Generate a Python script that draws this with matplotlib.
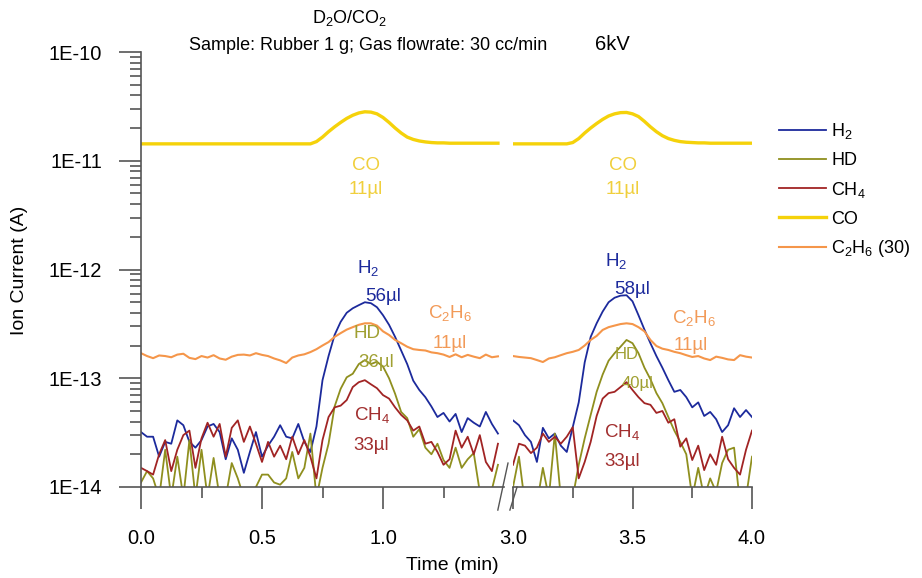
import numpy as np
import matplotlib
matplotlib.use("Agg")
import matplotlib.pyplot as plt
from matplotlib.ticker import FixedLocator, NullFormatter, NullLocator

plt.rcParams["font.family"] = ["Liberation Sans", "DejaVu Sans"]
plt.rcParams["mathtext.default"] = "regular"

# sampling times (min)
t_left = np.linspace(0.0, 1.475, 60)
t_right = np.linspace(3.0, 4.0, 41)

# ion currents, left segment, in units of 1E-14 A
h2_left = [3.2, 2.9, 2.9, 1.9, 2.6, 2.5, 4.1, 3.7, 2.6, 2.3,
           2.7, 3.6, 3.8, 3.2, 1.8, 2.8, 2.2, 1.35, 2.1, 3.2,
           1.9, 2.4, 2.9, 3.7, 2.9, 2.8, 3.8, 2.6, 2.1, 3.6,
           9.6, 16, 25, 33, 40, 44, 47, 50, 49, 45,
           38, 31, 24, 18, 13.5, 9.5, 7.8, 6.7, 5.5, 4.4,
           4.8, 4.0, 4.7, 3.2, 4.3, 3.9, 3.6, 4.9, 3.8, 3.1]
hd_left = [1.1, 1.4, 1.2, 0.8, 2.2, 0.8, 1.9, 0.8, 2.7, 0.8,
           2.2, 0.8, 1.85, 0.8, 0.8, 1.66, 1.2, 0.8, 0.9, 1.0,
           1.3, 1.3, 1.1, 1.05, 1.2, 2.1, 1.2, 1.5, 3.1, 0.8,
           1.5, 2.5, 5.5, 8.0, 10.2, 11, 13.5, 14.7, 13.5, 14.2,
           12.8, 10, 7.2, 4.9, 4.3, 2.9, 3.4, 2.3, 2.0, 2.5,
           1.77, 1.5, 2.3, 1.5, 1.8, 2.05, 0.9, 0.7, 0.95, 1.6]
ch4_left = [1.5, 1.4, 1.3, 2.0, 2.7, 1.4, 2.2, 3.0, 3.3, 1.5,
            2.8, 3.9, 2.9, 3.8, 1.9, 3.5, 4.1, 2.6, 3.6, 2.5,
            1.7, 2.6, 1.9, 2.4, 1.8, 2.9, 2.0, 2.7, 1.9, 1.2,
            2.7, 4.4, 5.4, 5.6, 6.3, 8.3, 9.2, 9.6, 8.8, 8.1,
            7.0, 6.5, 5.4, 4.6, 4.1, 3.3, 3.6, 2.5, 2.6, 2.1,
            1.6, 1.8, 3.3, 2.3, 2.9, 2.0, 3.0, 1.7, 1.4, 2.5]
co_left = [1430] * 29 + [
           1500, 1650, 1850, 2050, 2250, 2450, 2620, 2750, 2820, 2800,
           2700, 2500, 2250, 2000, 1800, 1650, 1570, 1520, 1490, 1470,
           1460, 1460, 1450, 1450, 1450, 1450, 1450, 1450, 1450, 1450,
           1450]
c2h6_left = [17, 16, 15.3, 16.2, 16, 15.6, 16.5, 16.8, 15.4, 15,
             16, 15.5, 16.3, 15.2, 14.8, 15.8, 16.4, 16.5, 16.2, 17,
             16.4, 16, 15.2, 14.6, 13.8, 15.5, 16.2, 16.6, 17.4, 18.5,
             20, 21.5, 24, 26, 28, 29.5, 31, 32, 32, 30.5,
             27, 25, 22.5, 21, 19.5, 18.5, 18.2, 18, 17.3, 17,
             16.5, 15.7, 16.6, 15.6, 16.4, 15.8, 15.3, 16.5, 15.6, 15.9]

# right segment, same units
h2_right = [4.1, 3.7, 3.0, 2.6, 1.7, 3.5, 2.8, 3.1, 2.4, 2.1,
            3.55, 6.0, 14, 24, 32, 41, 50, 55, 57.5, 58,
            51, 38, 28, 21, 16, 12.5, 9.6, 7.5, 7.8, 6.7,
            5.4, 6.0, 4.5, 4.9, 4.2, 3.2, 3.7, 5.3, 4.4, 5.1, 4.4]
hd_right = [1.0, 1.9, 0.7, 0.9, 0.7, 1.5, 0.8, 3.1, 0.8, 0.9,
            0.8, 1.6, 2.8, 4.6, 7.5, 10.8, 14.5, 17, 19.5, 22.5,
            21, 17, 12.5, 9.8, 7.3, 5.9, 4.4, 3.3, 2.6, 2.0,
            0.8, 1.5, 0.8, 1.2, 0.9, 1.66, 2.2, 2.3, 0.7, 0.8, 1.9]
ch4_right = [1.6, 2.5, 2.4, 2.05, 2.3, 3.1, 2.6, 2.9, 2.5, 2.9,
             3.55, 1.2, 1.7, 2.6, 4.5, 6.5, 7.3, 7.5, 8.3, 9.2,
             7.8, 6.7, 5.9, 5.7, 4.8, 5.0, 3.9, 4.2, 2.35, 2.8,
             1.77, 2.4, 1.43, 2.0, 1.6, 2.9, 1.8, 1.5, 1.3, 2.2, 3.3]
co_right = [1430] * 10 + [
            1470, 1600, 1800, 2000, 2200, 2400, 2580, 2700, 2770, 2780,
            2700, 2550, 2300, 2050, 1850, 1700, 1600, 1540, 1500, 1480,
            1470, 1460, 1460, 1450, 1450, 1450, 1450, 1450, 1450, 1450,
            1450]
c2h6_right = [16, 15.7, 15.5, 15.3, 14.7, 14.1, 15.2, 15.6, 16.3, 17,
              17.5, 18.2, 20, 22.5, 24.5, 27.8, 29.5, 30.5, 31.5, 32,
              31.5, 29.5, 27, 22.5, 19.8, 18.7, 18.2, 17.5, 17, 16.3,
              15.7, 16, 15.2, 14.7, 15.8, 15.4, 14.9, 14.7, 16.3, 15.8, 15.5]

series = ["H$_2$", "HD", "CH$_4$", "CO", "C$_2$H$_6$ (30)"]
colors = ["#1c2a9c", "#8f8f1e", "#a12424", "#f5d20a", "#f5964a"]
widths = [1.3, 1.3, 1.3, 2.4, 1.5]
left_data = [h2_left, hd_left, ch4_left, co_left, c2h6_left]
right_data = [h2_right, hd_right, ch4_right, co_right, c2h6_right]
scale = 1e-14

fig = plt.figure(figsize=(9.22, 5.78), dpi=100)
ax1 = fig.add_axes([141 / 922, 1 - 487 / 578, 363 / 922, 435 / 578])
ax2 = fig.add_axes([513 / 922, 1 - 487 / 578, 239 / 922, 435 / 578])

handles = []
for ys_l, ys_r, c, w in zip(left_data, right_data, colors, widths):
    ln, = ax1.plot(t_left, np.array(ys_l) * scale, color=c, lw=w)
    ax2.plot(t_right, np.array(ys_r) * scale, color=c, lw=w)
    handles.append(ln)

spine_c = "#555555"
for ax in (ax1, ax2):
    ax.set_yscale("log")
    ax.set_ylim(1e-14, 1e-10)
    ax.spines["top"].set_visible(False)
    ax.spines["right"].set_visible(False)
    ax.spines["bottom"].set_color(spine_c)
    ax.spines["bottom"].set_linewidth(1.2)
    ax.tick_params(axis="x", which="major", direction="out", length=16,
                   width=1.2, color=spine_c, labelsize=14.5, pad=14)
    ax.tick_params(axis="x", which="minor", direction="out", length=8,
                   width=1.2, color=spine_c)

ax1.set_xlim(0, 1.5)
ax1.xaxis.set_major_locator(FixedLocator([0.0, 0.5, 1.0]))
ax1.xaxis.set_minor_locator(FixedLocator([0.25, 0.75, 1.25]))
ax1.set_xticklabels(["0.0", "0.5", "1.0"])
ax2.set_xlim(3.0, 4.0)
ax2.xaxis.set_major_locator(FixedLocator([3.0, 3.5, 4.0]))
ax2.xaxis.set_minor_locator(FixedLocator([3.25, 3.75]))
ax2.set_xticklabels(["3.0", "3.5", "4.0"])

ax1.spines["left"].set_color(spine_c)
ax1.spines["left"].set_linewidth(1.2)
ax1.yaxis.set_major_locator(FixedLocator([1e-14, 1e-13, 1e-12, 1e-11, 1e-10]))
ax1.set_yticklabels(["1E-14", "1E-13", "1E-12", "1E-11", "1E-10"])
minors = [m * 10.0 ** e for e in range(-14, -10) for m in range(2, 10)]
ax1.yaxis.set_minor_locator(FixedLocator(minors))
ax1.yaxis.set_minor_formatter(NullFormatter())
ax1.tick_params(axis="y", which="major", direction="out", length=16,
                width=1.2, color=spine_c, labelsize=14.5, pad=12)
ax1.tick_params(axis="y", which="minor", direction="out", length=8,
                width=1.2, color=spine_c)

ax2.spines["left"].set_visible(False)
ax2.yaxis.set_major_locator(NullLocator())
ax2.yaxis.set_minor_locator(NullLocator())

# axis break marks
kw = dict(color="#555555", lw=1.0, clip_on=False)
ax1.plot([0.983, 1.011], [-0.053, 0.055], transform=ax1.transAxes, **kw)
ax2.plot([-0.013, 0.017], [-0.053, 0.0], transform=ax2.transAxes, **kw)

# peak annotations
co_c, h2_c, c2_c, hd_c, ch_c = "#f0cf3c", "#1c2a9c", "#f29a58", "#a0a032", "#a12e2e"
ann = [
    (ax1, 0.93, 9.1e-12, "CO", co_c, 13.5), (ax1, 0.93, 5.4e-12, "11µl", co_c, 13.5),
    (ax2, 3.46, 9.1e-12, "CO", co_c, 13.5), (ax2, 3.46, 5.4e-12, "11µl", co_c, 13.5),
    (ax1, 0.938, 1.03e-12, "H$_2$", h2_c, 13.5), (ax1, 1.0, 5.7e-13, "56µl", h2_c, 13.5),
    (ax2, 3.43, 1.2e-12, "H$_2$", h2_c, 13.5), (ax2, 3.50, 6.6e-13, "58µl", h2_c, 13.5),
    (ax1, 1.277, 4.0e-13, "C$_2$H$_6$", c2_c, 13.5), (ax1, 1.277, 2.1e-13, "11µl", c2_c, 13.5),
    (ax2, 3.757, 3.6e-13, "C$_2$H$_6$", c2_c, 13.5), (ax2, 3.745, 2.0e-13, "11µl", c2_c, 13.5),
    (ax1, 0.934, 2.6e-13, "HD", hd_c, 13.5), (ax1, 0.97, 1.4e-13, "36µl", hd_c, 13.5),
    (ax2, 3.477, 1.64e-13, "HD", hd_c, 12), (ax2, 3.52, 9.0e-14, "40µl", hd_c, 12),
    (ax1, 0.955, 4.6e-14, "CH$_4$", ch_c, 13.5), (ax1, 0.95, 2.43e-14, "33µl", ch_c, 13.5),
    (ax2, 3.456, 3.2e-14, "CH$_4$", ch_c, 13.5), (ax2, 3.456, 1.7e-14, "33µl", ch_c, 13.5),
]
for ax, x, y, s, c, f in ann:
    ax.text(x, y, s, color=c, fontsize=f, ha="center", va="center")

fig.text(350 / 922, 1 - 18 / 578, "D$_2$O/CO$_2$", fontsize=13, ha="center", va="center")
fig.text(368 / 922, 1 - 45 / 578, "Sample: Rubber 1 g; Gas flowrate: 30 cc/min",
         fontsize=13, ha="center", va="center")
fig.text(612 / 922, 1 - 45 / 578, "6kV", fontsize=14.5, ha="center", va="center")
fig.text(20 / 922, 1 - 270 / 578, "Ion Current (A)", fontsize=14, rotation=90,
         ha="center", va="center")
fig.text(452 / 922, 1 - 565 / 578, "Time (min)", fontsize=14, ha="center", va="center")

fig.legend(handles, series, loc="upper left", bbox_to_anchor=(770 / 922, 1 - 112 / 578),
           frameon=False, fontsize=13, handlelength=2.6, handletextpad=0.3,
           labelspacing=0.6, borderpad=0)

fig.savefig("out.png", dpi=100)
